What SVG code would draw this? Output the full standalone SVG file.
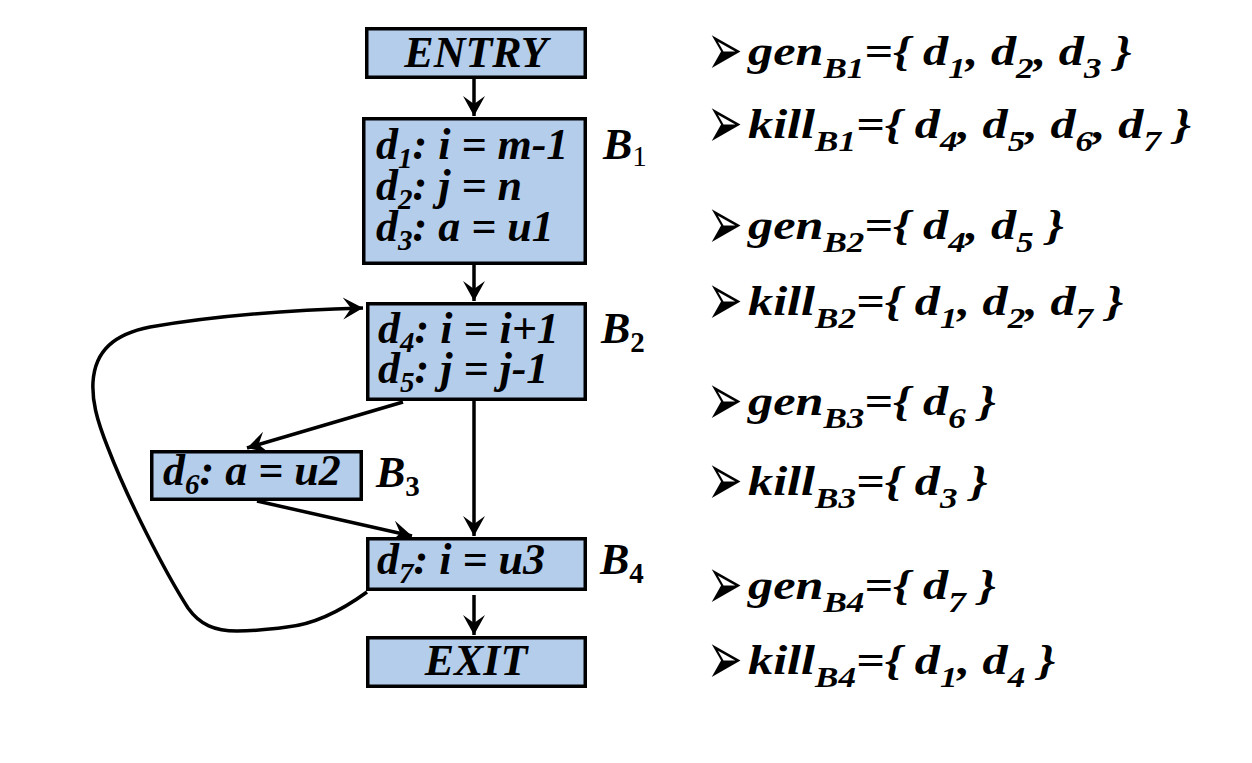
<svg xmlns="http://www.w3.org/2000/svg" width="1252" height="763" viewBox="0 0 1252 763">
<defs>
<marker id="arr" markerUnits="userSpaceOnUse" viewBox="-22 -12 24 24" markerWidth="24" markerHeight="24" refX="0" refY="0" orient="auto">
<path d="M0,0 L-20,-11 L-12,0 L-20,11 Z" fill="#000"/>
</marker>
<style>
.box{fill:#B4CDEB;stroke:#000;stroke-width:3.5}
.t{font-family:"Liberation Serif","Times New Roman",serif;font-weight:bold;font-style:italic;font-size:44px;fill:#000}
.s{font-size:29px}
.n{font-style:normal}
.r{font-weight:normal;font-style:normal}
.c{stroke:#000;stroke-width:3.5;fill:none;marker-end:url(#arr)}
.bl{font-family:"DejaVu Sans",sans-serif;font-size:34px;fill:#000}
.g{font-family:"Liberation Serif","Times New Roman",serif;font-weight:bold;font-style:italic;font-size:43px;fill:#000}
.gs{font-size:30px}
</style>
</defs>
<rect width="1252" height="763" fill="#fff"/>

<g id="connectors">
<line class="c" x1="474" y1="79" x2="474" y2="116"/>
<line class="c" x1="474" y1="265" x2="474" y2="301"/>
<line class="c" x1="403" y1="402" x2="247" y2="448"/>
<line class="c" x1="474" y1="401" x2="474" y2="536"/>
<line class="c" x1="257" y1="501" x2="412" y2="536"/>
<line class="c" x1="474" y1="595" x2="474" y2="635"/>
<path class="c" d="M 367,592 C 345,608 318,624 287,627 C 265,630 250,631 237,631 C 215,631 200,625 188,608 C 165,572 128,500 108,448 C 96,418 92,400 93,382 C 95,350 115,334 150,327 C 220,315 290,310 363,308"/>
</g>

<g id="entry">
<rect class="box" x="366.75" y="28.75" width="218.5" height="48.5"/>
<text class="t" x="476" y="67" text-anchor="middle">ENTRY</text>
</g>

<g id="b1">
<rect class="box" x="363.75" y="118.75" width="221.5" height="144.5"/>
<text class="t" x="376" y="159">d<tspan class="s" dy="9">1</tspan><tspan dy="-9">: i = m-1</tspan></text>
<text class="t" x="376" y="200">d<tspan class="s" dy="9">2</tspan><tspan dy="-9">: j = n</tspan></text>
<text class="t" x="376" y="241">d<tspan class="s" dy="9">3</tspan><tspan dy="-9">: a = u1</tspan></text>
<text class="t" x="603" y="159">B<tspan class="s r" dy="7">1</tspan></text>
</g>

<g id="b2">
<rect class="box" x="367.75" y="303.75" width="217.5" height="95.5"/>
<text class="t" x="378" y="343">d<tspan class="s" dy="9">4</tspan><tspan dy="-9">: i = i+1</tspan></text>
<text class="t" x="378" y="383">d<tspan class="s" dy="9">5</tspan><tspan dy="-9">: j = j-1</tspan></text>
<text class="t" x="601" y="343">B<tspan class="s n" dy="9">2</tspan></text>
</g>

<g id="b3">
<rect class="box" x="151.75" y="451.75" width="209.5" height="47.5"/>
<text class="t" x="163" y="485">d<tspan class="s" dy="9">6</tspan><tspan dy="-9">: a = u2</tspan></text>
<text class="t" x="376" y="487">B<tspan class="s n" dy="9">3</tspan></text>
</g>

<g id="b4">
<rect class="box" x="367.75" y="538.75" width="217.5" height="50.5"/>
<text class="t" x="377" y="574">d<tspan class="s" dy="9">7</tspan><tspan dy="-9">: i = u3</tspan></text>
<text class="t" x="600" y="574">B<tspan class="s n" dy="9">4</tspan></text>
</g>

<g id="exit">
<rect class="box" x="367.75" y="637.75" width="217.5" height="48.5"/>
<text class="t" x="476" y="675" text-anchor="middle">EXIT</text>
</g>

<g id="bullets">
<text class="bl" transform="translate(707 75) scale(1.25 2.2)">➢</text>
<text class="bl" transform="translate(707 148) scale(1.25 2.2)">➢</text>
<text class="bl" transform="translate(707 249) scale(1.25 2.2)">➢</text>
<text class="bl" transform="translate(707 325) scale(1.25 2.2)">➢</text>
<text class="bl" transform="translate(707 425) scale(1.25 2.2)">➢</text>
<text class="bl" transform="translate(707 505) scale(1.25 2.2)">➢</text>
<text class="bl" transform="translate(707 609) scale(1.25 2.2)">➢</text>
<text class="bl" transform="translate(707 684) scale(1.25 2.2)">➢</text>
</g>

<g id="sets" transform="translate(748 0) scale(1.17 1)">
<text class="g" x="0" y="65">gen<tspan class="gs" dy="13">B1</tspan><tspan dy="-13">={ d</tspan><tspan class="gs" dy="13">1</tspan><tspan dy="-13">, d</tspan><tspan class="gs" dy="13">2</tspan><tspan dy="-13">, d</tspan><tspan class="gs" dy="13">3</tspan><tspan dy="-13"> }</tspan></text>
<text class="g" x="0" y="138">kill<tspan class="gs" dy="13">B1</tspan><tspan dy="-13">={ d</tspan><tspan class="gs" dy="13">4</tspan><tspan dy="-13">, d</tspan><tspan class="gs" dy="13">5</tspan><tspan dy="-13">, d</tspan><tspan class="gs" dy="13">6</tspan><tspan dy="-13">, d</tspan><tspan class="gs" dy="13">7</tspan><tspan dy="-13"> }</tspan></text>
<text class="g" x="0" y="239">gen<tspan class="gs" dy="13">B2</tspan><tspan dy="-13">={ d</tspan><tspan class="gs" dy="13">4</tspan><tspan dy="-13">, d</tspan><tspan class="gs" dy="13">5</tspan><tspan dy="-13"> }</tspan></text>
<text class="g" x="0" y="315">kill<tspan class="gs" dy="13">B2</tspan><tspan dy="-13">={ d</tspan><tspan class="gs" dy="13">1</tspan><tspan dy="-13">, d</tspan><tspan class="gs" dy="13">2</tspan><tspan dy="-13">, d</tspan><tspan class="gs" dy="13">7</tspan><tspan dy="-13"> }</tspan></text>
<text class="g" x="0" y="415">gen<tspan class="gs" dy="13">B3</tspan><tspan dy="-13">={ d</tspan><tspan class="gs" dy="13">6</tspan><tspan dy="-13"> }</tspan></text>
<text class="g" x="0" y="495">kill<tspan class="gs" dy="13">B3</tspan><tspan dy="-13">={ d</tspan><tspan class="gs" dy="13">3</tspan><tspan dy="-13"> }</tspan></text>
<text class="g" x="0" y="599">gen<tspan class="gs" dy="13">B4</tspan><tspan dy="-13">={ d</tspan><tspan class="gs" dy="13">7</tspan><tspan dy="-13"> }</tspan></text>
<text class="g" x="0" y="674">kill<tspan class="gs" dy="13">B4</tspan><tspan dy="-13">={ d</tspan><tspan class="gs" dy="13">1</tspan><tspan dy="-13">, d</tspan><tspan class="gs" dy="13">4</tspan><tspan dy="-13"> }</tspan></text>
</g>
</svg>
